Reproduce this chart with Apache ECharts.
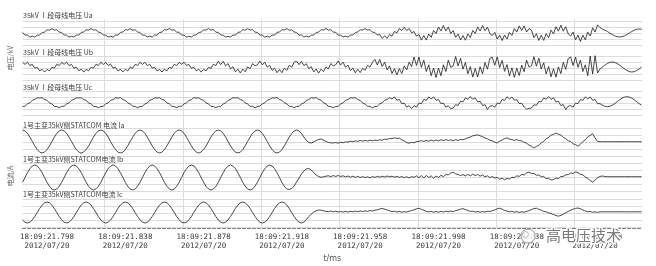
<!DOCTYPE html>
<html><head><meta charset="utf-8">
<script src="https://cdn.jsdelivr.net/npm/echarts@6/dist/echarts.min.js"></script>
<style>html,body{margin:0;padding:0;background:#fff}#c{width:656px;height:266px}</style>
</head><body><div id="c"></div>
<script>
// time of sample k = T0 + k*DT (ms, relative to 18:09:21.798)
const T0 = -12.5, DT = 1.25;
const tickTimes = [0,40,80,120,160,200,240,280];
const tickClock = ['18:09:21.798','18:09:21.838','18:09:21.878','18:09:21.918','18:09:21.958','18:09:21.998','18:09:22.038','18:09:22.078'];
const tickDate = ['2012/07/20','2012/07/20','2012/07/20','2012/07/20','2012/07/20','2012/07/20','2012/07/20','2012/07/20'];
const panelTitles = ['35kV Ⅰ段母线电压 Ua','35kV Ⅰ段母线电压 Ub','35kV Ⅰ段母线电压 Uc','1号主变35kV侧STATCOM 电流 Ia','1号主变35kV侧STATCOM电流 Ib','1号主变35kV侧STATCOM电流 Ic'];
const groupNames = ['电压/kV','电流/A'];

const Ua = [
0.6,-2.1,-2.0,-4.0,-3.2,-4.1,-2.2,-2.1,0.5,0.9,3.2,2.9,4.3,2.9,3.3,0.8,
0.6,-2.0,-2.1,-4.1,-3.3,-4.0,-2.1,-2.0,0.6,1.0,3.3,2.8,4.4,3.0,3.2,0.9,
0.5,-2.1,-2.2,-4.1,-3.2,-4.2,-2.1,-2.1,0.7,0.9,3.4,2.9,4.4,2.8,3.3,1.0,
0.6,-2.2,-2.1,-4.0,-3.1,-4.1,-2.0,-2.2,0.6,0.8,3.3,3.0,4.5,2.9,3.2,0.9,
0.7,-2.1,-2.1,-4.2,-3.2,-4.1,-2.2,-2.0,0.5,0.9,3.2,2.9,4.4,2.9,3.4,0.8,
0.6,-2.0,-2.2,-4.1,-3.3,-4.0,-2.1,-2.1,0.6,1.0,3.3,2.8,4.3,3.0,3.3,0.9,
0.5,-2.1,-2.1,-4.2,-3.2,-4.2,-2.0,-2.2,0.7,0.9,3.4,3.0,4.4,2.8,3.2,1.0,
0.6,-2.2,-2.0,-4.1,-3.1,-4.1,-2.2,-2.1,0.6,0.8,3.3,2.9,4.5,2.9,3.3,0.9,
0.7,-2.1,-2.1,-4.0,-3.2,-4.1,-2.1,-2.0,0.5,1.0,3.2,3.0,4.4,3.0,3.4,0.8,
0.6,-2.1,-1.5,-5.4,-2.7,-5.4,-1.5,-3.1,1.5,0.1,4.5,2.4,5.7,2.4,4.5,0.1,
1.5,-3.1,-1.5,-7.1,-2.5,-7.1,-1.0,-4.4,2.5,-0.6,6.0,2.1,7.5,2.1,6.0,-0.6,
2.4,-4.3,-1.1,-7.0,-2.6,-7.2,-0.9,-4.5,2.6,-0.5,6.1,2.0,7.4,2.2,5.9,-0.7,
-2.5,0.6,-6.0,-2.1,-7.5,-2.1,-6.0,0.6,-2.5,4.4,1.0,7.1,2.5,7.1,1.0,4.4,
2.8,-4.7,-0.7,-7.4,-2.2,-7.4,-0.7,-4.7,2.8,-0.9,6.3,1.8,7.8,1.8,6.3,-0.9,
-3.0,0.9,-6.9,-2.1,-8.5,-2.1,-6.9,0.9,-3.0,5.1,0.9,8.1,5.5,3.7,2.8,1.5,
0,-1.5,-2.8,-3.7,-4.0,-3.7,-2.8,-1.5,0,1.5,2.8,3.7,4.0,3.7];

const Ub = [
5.7,3.6,5.7,2.5,3.7,-0.2,0.7,-2.9,-1.3,-4.0,-1.3,-2.9,0.7,-0.2,3.7,2.5,
5.6,3.7,5.8,2.4,3.6,-0.3,0.8,-2.8,-1.2,-4.1,-1.4,-2.8,0.6,-0.1,3.8,2.4,
5.8,3.5,5.6,2.6,3.8,-0.2,0.6,-3.0,-1.3,-3.9,-1.2,-3.0,0.8,-0.3,3.6,2.6,
5.7,3.6,5.7,2.4,3.7,-0.1,0.7,-2.9,-1.4,-4.0,-1.3,-2.8,0.7,-0.2,3.7,2.5,
5.6,3.7,5.8,2.5,3.6,-0.3,0.8,-2.9,-1.2,-4.1,-1.3,-2.9,0.6,-0.2,3.8,2.4,
6.7,3.4,6.7,2.2,4.4,-0.8,1.2,-3.8,-1.1,-5.0,-1.1,-3.8,1.2,-0.8,4.4,2.2,
3.1,7.0,3.1,5.8,0.8,2.8,-2.4,-0.2,-4.7,-1.4,-4.7,-0.2,-2.4,2.8,0.8,5.8,
6.8,3.3,6.6,2.3,4.3,-0.7,1.3,-3.9,-1.0,-5.1,-1.2,-3.7,1.1,-0.9,4.5,2.1,
3.2,7.1,3.0,5.9,0.7,2.9,-2.5,-0.1,-4.8,-1.3,-4.6,-0.3,-2.3,2.7,0.9,5.7,
8.6,3.0,8.6,1.5,5.9,-2.0,2.1,-5.5,-0.6,-7.0,-0.6,-5.5,2.1,-2.0,5.9,1.5,
11.0,2.5,11.0,0.7,7.8,-3.5,3.2,-7.7,0,-9.5,0,-7.7,3.2,-3.5,7.8,0.7,
2.0,11.5,2.0,9.7,-1.2,5.5,-5.8,1.3,-9.0,-0.5,-9.0,1.3,-5.8,5.5,-1.2,9.7,
10.8,2.7,11.2,0.5,7.6,-3.3,3.4,-7.9,0.2,-9.3,-0.2,-7.5,3.0,-3.7,8.0,0.9,
2.2,11.3,1.8,9.9,-1.0,5.3,-6.0,1.5,-8.8,-0.7,-9.2,1.1,-5.6,5.7,-1.4,9.5,
11.0,2.5,11.0,0.7,7.8,-3.5,3.2,-7.7,12.0,-6.0,12.5,-5.0,-0.9,1.0,2.9,4.5,
5.6,6.0,5.6,4.5,2.9,1.0,-0.9,-2.5,-3.6,-4.0,-3.6,-2.5,-0.9,1.0];

const Uc = [
-3.5,-3.3,-0.9,0.1,2.7,3.5,5.3,4.9,5.3,3.5,2.7,0.1,-0.9,-3.3,-3.5,-4.7,
-3.4,-3.2,-1.0,0.2,2.6,3.6,5.2,5.0,5.2,3.4,2.8,0.0,-0.8,-3.4,-3.6,-4.6,
-3.6,-3.3,-0.8,0.1,2.7,3.4,5.3,4.8,5.4,3.5,2.6,0.2,-1.0,-3.2,-3.4,-4.8,
-3.5,-3.4,-0.9,0.0,2.8,3.5,5.2,4.9,5.3,3.6,2.7,0.1,-0.9,-3.3,-3.5,-4.7,
-3.4,-3.2,-0.9,0.2,2.6,3.4,5.4,4.8,5.2,3.5,2.8,0.0,-0.8,-3.4,-3.6,-4.6,
-3.6,-3.3,-1.0,0.1,2.7,3.6,5.3,5.0,5.3,3.4,2.6,0.1,-1.0,-3.2,-3.4,-4.8,
-3.5,-3.2,-0.8,0.1,2.8,3.5,5.2,4.9,5.4,3.5,2.7,0.2,-0.9,-3.3,-3.5,-4.7,
-3.4,-3.4,-0.9,0.0,2.6,3.5,5.3,4.8,5.3,3.6,2.8,0.1,-0.8,-3.4,-3.6,-4.6,
-3.6,-3.3,-1.0,0.2,2.7,3.4,5.2,5.0,5.2,3.5,2.6,0.0,-1.0,-3.3,-3.4,-4.8,
-3.5,-3.3,-0.9,0.1,2.7,3.5,5.3,4.1,6.1,2.7,3.5,-0.7,-0.1,-4.1,-2.7,-5.5,
-2.7,-4.1,-0.1,-0.7,3.5,2.7,6.1,4.1,6.1,2.7,3.5,-0.7,-0.1,-4.1,-2.7,-5.5,
-5.1,-1.7,-2.5,1.7,1.1,5.1,3.7,6.5,3.7,5.1,1.1,1.7,-2.5,-1.7,-6.5,-3.1,
-2.6,-4.2,0.0,-0.8,3.6,2.6,6.2,4.0,6.0,2.8,3.4,-0.6,-0.2,-4.0,-6.2,-5.4,
-5.0,-1.8,-2.4,1.6,1.2,5.0,3.8,6.4,3.6,5.2,1.0,1.8,-2.6,-1.6,-6.6,-3.2,
-2.7,-4.1,-0.1,-0.7,3.5,2.7,6.1,4.1,6.1,2.7,3.5,-0.7,-0.6,-2.2,-3.3,-3.7,
-3.3,-2.2,-0.6,1.3,3.2,4.8,5.9,6.3,5.9,4.8,3.2,1.3,-0.6,-2.2];

const Ia = [
12.0,11.1,8.6,4.9,0.5,-3.9,-7.6,-10.1,-11.0,-10.1,-7.6,-3.9,0.5,4.9,8.6,11.1,
12.1,11.0,8.7,4.8,0.6,-3.8,-7.7,-10.0,-11.1,-10.0,-7.5,-4.0,0.4,5.0,8.5,11.2,
11.9,11.2,8.5,5.0,0.4,-4.0,-7.5,-10.2,-10.9,-10.2,-7.7,-3.8,0.6,4.8,8.7,11.0,
12.0,11.1,8.6,4.9,0.5,-3.9,-7.6,-10.1,-11.0,-10.1,-7.6,-3.9,0.5,4.9,8.6,11.1,
12.1,11.0,8.7,4.8,0.6,-3.8,-7.7,-10.0,-11.1,-10.0,-7.5,-4.0,0.4,5.0,8.5,11.2,
11.9,11.2,8.5,5.0,0.4,-4.0,-7.5,-10.2,-10.9,-10.2,-7.7,-3.8,0.6,4.8,8.7,11.0,
12.0,11.1,8.6,4.9,0.5,-3.9,-7.6,-10.1,-11.0,-10.1,-7.6,-3.9,0.5,4.9,8.6,11.1,
12.0,11.0,8.5,5.0,1.5,-0.5,-1.0,0.0,1.5,2.5,3.0,2.0,0.5,-0.5,-0.8,-1.0,
-0.5,-1.2,-0.3,-0.8,0.2,-0.2,0.8,0.3,1.2,0.6,1.5,0.9,1.6,1.0,1.8,1.2,
1.9,1.4,2.2,1.8,2.8,2.6,3.5,3.4,4.2,3.6,3.8,2.2,1.0,-0.6,-1.2,-0.4,
-0.8,0.4,0.6,1.4,0.6,1.6,0.8,1.9,1.0,2.0,1.2,2.2,1.4,2.4,1.5,2.2,
1.2,2.3,1.6,2.6,2.2,3.2,4.2,5.0,6.2,6.6,7.2,6.2,5.4,4.0,3.2,1.8,
1.2,-0.2,-1.0,0.8,2.0,3.4,4.2,2.8,2.4,1.6,2.4,1.4,1.2,-0.4,-1.2,-3.2,
-4.2,-6.0,-4.4,-3.4,-0.8,0.6,3.2,4.6,6.8,7.6,9.0,7.8,7.0,4.6,3.4,1.2,
0.4,-1.8,-2.6,-4.2,-2.2,0.4,2.2,5.2,6.6,8.2,4.0,0.6,0.3,0.3,0.3,0.3,
0.3,0.3,0.3,0.3,0.3,0.3,0.3,0.3,0.3,0.3,0.3,0.3,0.3,0.3];

const Ib = [
-5.3,-0.5,4.3,8.3,11.0,12.0,11.0,8.3,4.3,-0.5,-5.3,-9.3,-12.0,-13.0,-12.0,-9.3,
-5.2,-0.6,4.4,8.2,11.1,11.9,11.1,8.2,4.4,-0.6,-5.2,-9.4,-11.9,-13.1,-11.9,-9.4,
-5.4,-0.4,4.2,8.4,10.9,12.1,10.9,8.4,4.2,-0.4,-5.4,-9.2,-12.1,-12.9,-12.1,-9.2,
-5.3,-0.5,4.3,8.3,11.0,12.0,11.0,8.3,4.3,-0.5,-5.3,-9.3,-12.0,-13.0,-12.0,-9.3,
-5.2,-0.6,4.4,8.2,11.1,11.9,11.1,8.2,4.4,-0.6,-5.2,-9.4,-11.9,-13.1,-11.9,-9.4,
-5.4,-0.4,4.2,8.4,10.9,12.1,10.9,8.4,4.2,-0.4,-5.4,-9.2,-12.1,-12.9,-12.1,-9.2,
-5.3,-0.5,4.3,8.3,11.0,12.0,11.0,8.3,4.3,-0.5,-5.3,-9.3,-12.0,-12.5,-11.5,-9.0,
-5.0,-1.0,3.0,6.0,8.0,8.5,7.0,4.5,2.0,0.5,-0.3,0.2,0.8,1.2,0.4,1.4,
0.6,1.5,0.5,1.2,0.2,1.0,-0.2,0.8,-0.4,0.6,-0.5,0.4,-0.6,0.2,-0.8,0.4,
-0.4,0.6,-0.2,0.8,0.0,1.0,0.2,0.8,-0.2,0.6,-0.4,0.4,-0.6,0.2,-0.8,0.4,
-0.4,1.2,-0.8,1.4,-1.0,1.6,-0.6,1.2,-1.2,1.0,-0.4,1.6,0.4,2.4,2.2,4.0,
4.8,3.2,2.6,1.4,2.4,1.0,2.6,1.2,2.8,1.4,2.6,0.8,2.0,0.2,1.2,-0.6,
0.4,-1.2,-0.4,-2.2,-1.2,-2.8,-1.4,-2.0,-0.4,-0.6,1.2,0.6,2.6,2.0,4.2,4.8,
3.4,3.6,1.8,2.0,0.2,0.4,-1.6,-1.2,-3.0,-2.6,-1.0,-1.6,0.4,0.6,2.2,2.4,
4.0,3.6,5.0,4.4,2.6,2.2,0.0,-1.4,-3.6,-5.0,-3.0,-0.8,0.6,1.0,0.5,0.3,
0.3,0.3,0.3,0.3,0.3,0.3,0.3,0.3,0.3,0.3,0.3,0.3,0.3,0.3];

const Ic = [
-6.9,-9.2,-10.0,-9.2,-6.9,-3.5,0.5,4.5,7.9,10.2,11.0,10.2,7.9,4.5,0.5,-3.5,
-6.8,-9.3,-9.9,-9.3,-6.8,-3.6,0.6,4.4,8.0,10.1,11.1,10.1,8.0,4.4,0.6,-3.6,
-7.0,-9.1,-10.1,-9.1,-7.0,-3.4,0.4,4.6,7.8,10.3,10.9,10.3,7.8,4.6,0.4,-3.4,
-6.9,-9.2,-10.0,-9.2,-6.9,-3.5,0.5,4.5,7.9,10.2,11.0,10.2,7.9,4.5,0.5,-3.5,
-6.8,-9.3,-9.9,-9.3,-6.8,-3.6,0.6,4.4,8.0,10.1,11.1,10.1,8.0,4.4,0.6,-3.6,
-7.0,-9.1,-10.1,-9.1,-7.0,-3.4,0.4,4.6,7.8,10.3,10.9,10.3,7.8,4.6,0.4,-3.4,
-6.9,-9.2,-10.0,-9.2,-6.9,-3.5,0.5,4.5,7.9,10.2,11.0,10.2,7.9,4.5,0.5,-3.5,
-6.9,-9.2,-10.0,-9.0,-6.5,-3.5,-1.0,1.0,2.2,3.0,2.8,2.2,1.6,1.4,2.0,1.2,
1.8,1.0,1.6,0.9,1.5,1.0,1.7,1.2,1.9,1.3,2.0,1.4,2.2,1.6,2.4,2.0,
2.8,3.2,4.0,4.6,3.8,3.0,2.2,1.4,1.8,1.0,1.6,0.8,1.4,1.0,1.8,2.4,
3.2,4.2,4.8,3.6,2.8,1.6,1.2,1.6,0.8,1.4,0.8,1.6,1.0,1.8,1.2,2.0,
1.4,2.4,3.0,3.8,4.4,3.4,2.6,1.6,1.8,1.0,1.6,0.8,1.4,1.0,1.8,1.4,
2.4,3.0,4.2,4.8,3.8,2.6,2.0,1.2,1.6,0.8,1.4,0.6,1.2,0.8,1.6,2.4,
3.4,4.4,4.8,3.6,2.8,1.6,1.2,0.2,-0.6,-1.6,-2.4,-3.2,-2.4,-1.2,0.2,1.6,
2.8,3.8,4.6,5.0,4.2,3.0,2.0,1.2,1.6,0.8,1.2,0.6,1.2,1.2,1.2,1.2,
1.2,1.2,1.2,1.2,1.2,1.2,1.2,1.2,1.2,1.2,1.2,1.2,1.2,1.2];

const traces = [Ua, Ub, Uc, Ia, Ib, Ic];

// ---- layout ----
const PX_PER_MS = 1.9575;
const X0 = 47;                       // pixel of t = 0
const T_MIN = -12.5, T_MAX = 304;
const LEFT = X0 + T_MIN * PX_PER_MS;
const RIGHT = 656 - (X0 + T_MAX * PX_PER_MS);
const panelTop = [21, 56, 91, 128, 163, 199];
const panelH = [24, 24, 24, 28, 28, 28];
const panelRange = [12, 12, 12, 14, 14, 14];
const titleY = [15, 52, 87, 125, 159, 194];
const gridColor = '#dcdcdc';
const FONT_CJK = '"Noto Sans CJK SC"';

const grid = [], xAxis = [], yAxis = [], series = [];
for (let i = 0; i < 6; i++) {
  grid.push({ left: LEFT, right: RIGHT, top: panelTop[i], height: panelH[i] });
  const last = i === 5;
  xAxis.push({
    type: 'value', gridIndex: i, min: T_MIN, max: T_MAX, show: last,
    position: 'bottom', offset: 1,
    axisLine: { show: last, onZero: false, lineStyle: { color: '#7a7a7a', width: 1, type: [3, 2] } },
    axisTick: { show: false },
    splitLine: { show: false },
    axisLabel: {
      show: last, customValues: tickTimes, margin: 5, fontSize: 7.5, lineHeight: 9,
      color: '#3a3a3a', fontFamily: '"DejaVu Sans Mono"',
      formatter: v => { const k = tickTimes.indexOf(Math.round(v)); return k < 0 ? '' : tickClock[k] + '\n' + tickDate[k]; }
    },
    name: last ? 't/ms' : '', nameLocation: 'middle', nameGap: 27,
    nameTextStyle: { fontSize: 8, color: '#555', fontFamily: '"DejaVu Sans"' }
  });
  const r = panelRange[i];
  yAxis.push({
    type: 'value', gridIndex: i, min: -r, max: r, interval: r / 2,
    axisLine: { show: false }, axisTick: { show: false }, axisLabel: { show: false },
    splitLine: { show: true, lineStyle: { color: gridColor, width: 1 } }
  });
  series.push({
    type: 'line', xAxisIndex: i, yAxisIndex: i, showSymbol: false, symbol: 'none',
    lineStyle: { color: '#1c1c1c', width: 0.8 }, z: 3,
    data: traces[i].map((v, k) => [T0 + k * DT, v])
  });
}
// vertical grid lines (separate axis)
const VL = X0 + (29.5 - 40) * PX_PER_MS;
grid.push({ left: VL, right: RIGHT, top: 19, height: 209 });
xAxis.push({
  type: 'value', gridIndex: 6, min: 0, max: (656 - RIGHT - VL) / PX_PER_MS, interval: 40,
  axisLine: { show: false }, axisTick: { show: false }, axisLabel: { show: false },
  splitLine: { show: true, showMinLine: false, showMaxLine: false, lineStyle: { color: gridColor, width: 1 } }
});
yAxis.push({ type: 'value', gridIndex: 6, min: 0, max: 1, show: false });

const graphic = [];
for (let i = 0; i < 6; i++) {
  graphic.push({
    type: 'text', x: 23, y: titleY[i], z: 10,
    style: {
      text: panelTitles[i], fill: '#3c3c3c', font: '7px ' + FONT_CJK,
      verticalAlign: 'middle', align: 'left'
    }
  });
}
graphic.push({ type: 'text', x: 10, y: 58, rotation: Math.PI / 2, z: 10,
  style: { text: groupNames[0], fill: '#666', font: '7px ' + FONT_CJK, align: 'center', verticalAlign: 'middle' } });
graphic.push({ type: 'text', x: 10, y: 176, rotation: Math.PI / 2, z: 10,
  style: { text: groupNames[1], fill: '#666', font: '7px ' + FONT_CJK, align: 'center', verticalAlign: 'middle' } });
// watermark
graphic.push({ type: 'circle', z: 20, shape: { cx: 528, cy: 236, r: 7 },
  style: { fill: 'rgba(255,255,255,0.85)', stroke: '#9a9a9a', lineWidth: 1 } });
graphic.push({ type: 'circle', z: 21, shape: { cx: 525.5, cy: 234.5, r: 3 },
  style: { fill: 'none', stroke: '#aaa', lineWidth: 0.8 } });
graphic.push({ type: 'text', x: 546, y: 235, z: 20,
  style: { text: '高电压技术', fill: '#7c7c7c', font: '15px ' + FONT_CJK, verticalAlign: 'middle',
    stroke: 'rgba(255,255,255,0.9)', lineWidth: 3 } });

const chart = echarts.init(document.getElementById('c'), null, { renderer: 'canvas' });
chart.setOption({
  animation: false,
  backgroundColor: '#fff',
  grid, xAxis, yAxis, series, graphic
});
</script>
</body></html>
